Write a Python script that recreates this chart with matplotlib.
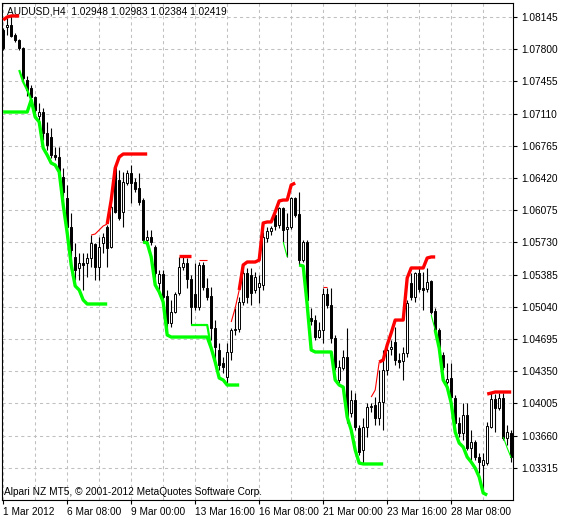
import numpy as np
import matplotlib
matplotlib.use('Agg')
import matplotlib.pyplot as plt

# AUDUSD H4 candles, bar 0 = 1 Mar 2012 16:00
opens = [1.08006, 1.08038, 1.08059, 1.07952, 1.07898, 1.07812, 1.07470, 1.07384, 1.07288, 1.07084,
         1.07127, 1.06902, 1.06859, 1.06666, 1.06645, 1.06431, 1.06206, 1.05895, 1.05574, 1.05456,
         1.05509, 1.05509, 1.05563, 1.05713, 1.05466, 1.05724, 1.05895, 1.05681, 1.06527, 1.06398,
         1.06056, 1.06366, 1.06473, 1.06377, 1.06313, 1.06184, 1.05756, 1.05788, 1.05681, 1.05295,
         1.05391, 1.05156, 1.04866, 1.04984, 1.05188, 1.05466, 1.05509, 1.05338, 1.05177, 1.05038,
         1.05488, 1.05241, 1.05156, 1.04813, 1.04577, 1.04438, 1.04288, 1.04556, 1.04791, 1.04802,
         1.05091, 1.05402, 1.05381, 1.05220, 1.05252, 1.05274, 1.05777, 1.05852, 1.06024, 1.05916,
         1.06099, 1.05874, 1.05895, 1.06206, 1.06034, 1.05541, 1.05734, 1.04920, 1.04898, 1.04716,
         1.04791, 1.05177, 1.05059, 1.04706, 1.04256, 1.04384, 1.04502, 1.03902, 1.04041, 1.03741,
         1.03506, 1.03752, 1.03966, 1.03988, 1.03848, 1.04020, 1.04363, 1.04588, 1.04663, 1.04470,
         1.04459, 1.04545, 1.05295, 1.05145, 1.05402, 1.05241, 1.05231, 1.05316, 1.04995, 1.04791,
         1.04524, 1.04234, 1.04277, 1.04063, 1.03795, 1.03688, 1.03880, 1.03527, 1.03591, 1.03430,
         1.03345, 1.03366, 1.03752, 1.04052, 1.03956, 1.04063, 1.03634, 1.03688]
highs = [1.08027, 1.08134, 1.08156, 1.07974, 1.07909, 1.07823, 1.07513, 1.07416, 1.07299, 1.07224,
         1.07170, 1.07020, 1.06956, 1.06752, 1.06752, 1.06527, 1.06345, 1.06045, 1.05724, 1.05616,
         1.05616, 1.05616, 1.05809, 1.05724, 1.05788, 1.05831, 1.05916, 1.06131, 1.06559, 1.06506,
         1.06484, 1.06506, 1.06559, 1.06420, 1.06473, 1.06206, 1.05863, 1.05863, 1.05702, 1.05434,
         1.05434, 1.05220, 1.05113, 1.05199, 1.05574, 1.05574, 1.05563, 1.05381, 1.05509, 1.05520,
         1.05520, 1.05349, 1.05252, 1.04898, 1.04652, 1.04502, 1.04652, 1.04813, 1.05027, 1.05145,
         1.05509, 1.05456, 1.05456, 1.05413, 1.05381, 1.05841, 1.05895, 1.05906, 1.06056, 1.06109,
         1.06109, 1.06045, 1.06216, 1.06216, 1.06270, 1.05756, 1.05756, 1.05027, 1.04952, 1.04877,
         1.05241, 1.05241, 1.05241, 1.04738, 1.04470, 1.04577, 1.04813, 1.04148, 1.04116, 1.03773,
         1.03848, 1.04009, 1.04009, 1.04073, 1.04363, 1.04577, 1.04609, 1.04684, 1.04823, 1.04545,
         1.04609, 1.05113, 1.05402, 1.05413, 1.05456, 1.05413, 1.05456, 1.05327, 1.05027, 1.04813,
         1.04556, 1.04438, 1.04438, 1.04095, 1.03859, 1.04009, 1.04009, 1.03720, 1.03613, 1.03474,
         1.03474, 1.03806, 1.04116, 1.04105, 1.04116, 1.04116, 1.03773, 1.03720]
lows = [1.07791, 1.07952, 1.07931, 1.07877, 1.07791, 1.07438, 1.07299, 1.07202, 1.07116, 1.06988,
        1.06827, 1.06720, 1.06634, 1.06613, 1.06452, 1.06184, 1.05756, 1.05488, 1.05327, 1.05327,
        1.05220, 1.05359, 1.05466, 1.05327, 1.05327, 1.05616, 1.05466, 1.05670, 1.06045, 1.05970,
        1.05895, 1.06345, 1.06152, 1.06270, 1.06131, 1.05734, 1.05734, 1.05702, 1.05295, 1.05220,
        1.05113, 1.04791, 1.04823, 1.04973, 1.05166, 1.05434, 1.05241, 1.04845, 1.05006, 1.05006,
        1.05220, 1.05113, 1.04684, 1.04470, 1.04363, 1.04331, 1.04224, 1.04470, 1.04738, 1.04770,
        1.05059, 1.05081, 1.05059, 1.05188, 1.05081, 1.05220, 1.05734, 1.05809, 1.05863, 1.05884,
        1.05734, 1.05574, 1.05874, 1.06002, 1.05488, 1.05520, 1.05059, 1.04845, 1.04684, 1.04706,
        1.04652, 1.05027, 1.04652, 1.04363, 1.04224, 1.04363, 1.03795, 1.03859, 1.03720, 1.03452,
        1.03366, 1.03645, 1.03913, 1.03773, 1.03773, 1.03720, 1.04309, 1.04524, 1.04416, 1.04384,
        1.04256, 1.04502, 1.05113, 1.05091, 1.05199, 1.05006, 1.05199, 1.04963, 1.04770, 1.04556,
        1.04363, 1.04213, 1.04041, 1.03773, 1.03645, 1.03613, 1.03506, 1.03398, 1.03398, 1.03259,
        1.03045, 1.03345, 1.03741, 1.03698, 1.03934, 1.03613, 1.03559, 1.03377]
closes = [1.07812, 1.08059, 1.07942, 1.07898, 1.07812, 1.07491, 1.07363, 1.07288, 1.07148, 1.07127,
          1.06902, 1.06774, 1.06666, 1.06645, 1.06484, 1.06270, 1.05895, 1.05648, 1.05434, 1.05509,
          1.05488, 1.05563, 1.05724, 1.05466, 1.05681, 1.05788, 1.05670, 1.06109, 1.06056, 1.05991,
          1.06377, 1.06473, 1.06366, 1.06302, 1.06163, 1.05756, 1.05788, 1.05734, 1.05402, 1.05391,
          1.05145, 1.04866, 1.04984, 1.05177, 1.05466, 1.05509, 1.05338, 1.05038, 1.05038, 1.05488,
          1.05252, 1.05145, 1.04813, 1.04609, 1.04416, 1.04395, 1.04556, 1.04791, 1.04802, 1.05091,
          1.05402, 1.05145, 1.05188, 1.05359, 1.05295, 1.05788, 1.05852, 1.05884, 1.05906, 1.06099,
          1.05863, 1.05895, 1.06206, 1.06024, 1.05541, 1.05734, 1.05113, 1.04888, 1.04716, 1.04791,
          1.05177, 1.05059, 1.04706, 1.04395, 1.04395, 1.04502, 1.03859, 1.04041, 1.03752, 1.03484,
          1.03752, 1.03966, 1.03977, 1.03848, 1.04020, 1.04363, 1.04577, 1.04609, 1.04470, 1.04448,
          1.04545, 1.05081, 1.05145, 1.05402, 1.05231, 1.05220, 1.05306, 1.04984, 1.04791, 1.04577,
          1.04395, 1.04266, 1.04073, 1.03795, 1.03688, 1.03880, 1.03527, 1.03591, 1.03430, 1.03377,
          1.03398, 1.03763, 1.04052, 1.03956, 1.04063, 1.03634, 1.03698, 1.03430]

# indicator lines: (first bar, values)
red_thick = [
    (0, [1.08113, 1.08145, 1.08156, 1.08156, 1.08156]),
    (26, [1.05927, 1.06184, 1.06527, 1.06645] + [1.06677] * 7),
    (44, [1.05584] * 4),
    (59, [1.05220, 1.05488, 1.05520, 1.05520, 1.05520, 1.05541, 1.05938, 1.05949, 1.05949,
          1.06056, 1.06174, 1.06184, 1.06184, 1.06345, 1.06366]),
    (94, [1.04448, 1.04470, 1.04631, 1.04759, 1.04898, 1.04898, 1.04898, 1.05349, 1.05456,
          1.05456, 1.05456, 1.05456, 1.05563, 1.05574, 1.05574]),
    (121, [1.04105, 1.04116, 1.04127, 1.04127, 1.04127, 1.04127, 1.04127]),
]
red_thin = [
    (22, [1.05809, 1.05820, 1.05863, 1.05906, 1.05927]),
    (49, [1.05541] * 3),
    (57, [1.04877, 1.05027, 1.05220]),
    (80, [1.05252] * 2),
    (92, [1.04073, 1.04148, 1.04448]),
]
green_thick = [
    (0, [1.07127] * 7 + [1.07256, 1.07073, 1.07020, 1.06741, 1.06666, 1.06580, 1.06559, 1.06484,
                        1.06131, 1.05831, 1.05488, 1.05263, 1.05220, 1.05113] + [1.05070] * 6),
    (35, [1.05734, 1.05724, 1.05574, 1.05274, 1.05199, 1.05091, 1.04738] + [1.04716] * 10
         + [1.04598, 1.04448, 1.04277, 1.04256] + [1.04202] * 4),
    (74, [1.05488, 1.05477, 1.05059, 1.04577] + [1.04556] * 5
         + [1.04256, 1.04202, 1.04180, 1.03859, 1.03720, 1.03506, 1.03366] + [1.03356] * 6),
    (108, [1.04791, 1.04598, 1.04256, 1.04180, 1.04009, 1.03698, 1.03580, 1.03538, 1.03430,
           1.03377, 1.03312, 1.03216, 1.03045, 1.03023]),
]
green_mid = [
    (4, [1.07577, 1.07449, 1.07363, 1.07256]),
    (47, [1.04845] * 5 + [1.04598]),
]
green_thin = [
    (70, [1.05734, 1.05574]),
    (107, [1.04952, 1.04791]),
    (125, [1.03645, 1.03527, 1.03420]),
]

price_ticks = [1.08145, 1.07800, 1.07455, 1.07110, 1.06765, 1.06420, 1.06075, 1.05730,
               1.05385, 1.05040, 1.04695, 1.04350, 1.04005, 1.03660, 1.03315]
time_ticks = [0, 16, 32, 48, 64, 80, 96, 112]
time_labels = ['1 Mar 2012', '6 Mar 08:00', '9 Mar 00:00', '13 Mar 16:00',
               '16 Mar 08:00', '21 Mar 00:00', '23 Mar 16:00', '28 Mar 08:00']

plt.rcParams['font.family'] = ['Liberation Sans', 'DejaVu Sans']

fig = plt.figure(figsize=(5.66, 5.21), dpi=100)
ax = fig.add_axes([2 / 566, 21 / 521, 511 / 566, 497 / 521])

o = np.array(opens)
h = np.array(highs)
l = np.array(lows)
c = np.array(closes)
idx = np.arange(len(o))
up = c >= o

ax.vlines(idx, l, h, color='black', lw=0.8, zorder=2)
ax.bar(idx, np.abs(c - o), bottom=np.minimum(o, c), width=0.62,
       color=np.where(up, 'white', 'black'), edgecolor='black', lw=0.7, zorder=3)


def draw(segs, color, lw):
    for start, vals in segs:
        ax.plot(np.arange(start, start + len(vals)), vals, color=color, lw=lw,
                solid_capstyle='butt', solid_joinstyle='round', zorder=4)


draw(green_thin, '#00ff00', 0.8)
draw(red_thin, '#ff0000', 0.8)
draw(green_mid, '#00ff00', 1.6)
draw(green_thick, '#00ff00', 2.4)
draw(red_thick, '#ff0000', 2.4)

ax.set_xlim(-0.3, 127.45)
ax.set_ylim(1.02970, 1.08295)

ax.yaxis.tick_right()
ax.set_yticks(price_ticks)
ax.set_yticklabels(['%.5f' % p for p in price_ticks])
ax.set_xticks(time_ticks)
ax.set_xticklabels(time_labels)
ax.set_xticks(np.arange(8, 128, 16), minor=True)
for lab in ax.get_xticklabels():
    lab.set_horizontalalignment('left')
ax.tick_params(axis='both', which='major', direction='out', length=3, width=0.8,
               labelsize=7.3, colors='black', pad=2)
ax.tick_params(axis='x', which='minor', length=0)
ax.tick_params(axis='y', pad=3)

ax.grid(True, which='both', color='#c0c0c0', linestyle=(0, (3, 3)), lw=0.75)
ax.set_axisbelow(True)
for sp in ax.spines.values():
    sp.set_color('black')
    sp.set_linewidth(0.8)

ax.text(0.009, 0.982, 'AUDUSD,H4  1.02948 1.02983 1.02384 1.02419',
        transform=ax.transAxes, fontsize=7.3, va='center', ha='left')
ax.text(0.004, 0.017, 'Alpari NZ MT5, \u00a9 2001-2012 MetaQuotes Software Corp.',
        transform=ax.transAxes, fontsize=7.3, va='center', ha='left')

fig.savefig('out.png', dpi=100)
